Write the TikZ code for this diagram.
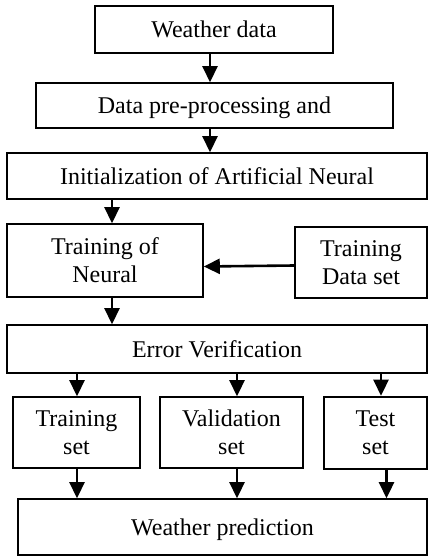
\documentclass[tikz,border=0pt]{standalone}
\usepackage{fontspec}
\setmainfont{Liberation Serif}
\usetikzlibrary{arrows.meta,calc}
\begin{document}
\begin{tikzpicture}[x=1pt,y=-1pt,
  box/.style={draw,line width=1.6pt,inner sep=0pt,align=center,font=\fontsize{24}{28}\selectfont},
  one/.style={text height=16pt,text depth=0pt},
  arr/.style={line width=2.6pt,-{Triangle[width=15pt,length=16pt]}}]
\fill[white] (0,0) rectangle (428,556);
\useasboundingbox (0,0) rectangle (428,556);
% boxes
\node[box,one,minimum width=238,minimum height=47] (wd) at (214,29.5) {Weather data};
\node[box,one,minimum width=357,minimum height=45] (pre) at (214.5,105.5) {Data pre-processing and};
\node[box,one,minimum width=420,minimum height=46] (ini) at (217,176) {Initialization of Artificial Neural};
\node[box,minimum width=196,minimum height=73] (tn) at (105,260.5) {Training of\\Neural};
\node[box,minimum width=132,minimum height=71] (tds) at (361,262.5) {Training\\Data set};
\node[box,one,minimum width=420,minimum height=48] (ev) at (217,349) {Error Verification};
\node[box,minimum width=127,minimum height=71] (ts) at (76.5,432.5) {Training\\set};
\node[box,minimum width=143,minimum height=71] (vs) at (231.5,432.5) {Validation\\set};
\node[box,minimum width=103,minimum height=72] (tes) at (375.5,433) {Test\\set};
\node[box,one,minimum width=409,minimum height=56] (wp) at (222.5,527) {Weather prediction};
% arrows
\draw[arr] ($(wd.south)+(-4,0)$) -- ($(pre.north)+(-4.5,0)$);
\draw[arr] ($(pre.south)+(-4.5,0)$) -- ($(ini.north)+(-7,0)$);
\draw[arr] ($(ini.south)+(-105,0)$) -- ($(tn.north)+(7,0)$);
\draw[arr] ($(tn.south)+(7,0)$) -- ($(ev.north)+(-105,0)$);
\draw[arr] ($(tds.west)+(0,3)$) -- ($(tn.east)+(0,6)$);
\draw[arr] ($(ev.south)+(-140,0)$) -- ($(ts.north)+(0.5,0)$);
\draw[arr] ($(ev.south)+(20,0)$) -- ($(vs.north)+(5.5,0)$);
\draw[arr] ($(ev.south)+(164,0)$) -- ($(tes.north)+(5.5,-0.5)$);
\draw[arr] ($(ts.south)+(0.5,0)$) -- ($(wp.north)+(-145.5,0)$);
\draw[arr] ($(vs.south)+(5.5,0)$) -- ($(wp.north)+(14.5,0)$);
\draw[arr] ($(tes.south)+(11,0)$) -- ($(wp.north)+(164,0)$);
\end{tikzpicture}
\end{document}
